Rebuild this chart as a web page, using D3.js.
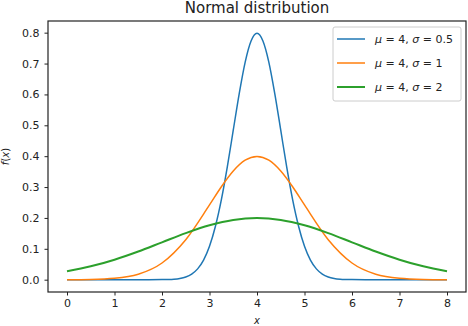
<!DOCTYPE html>
<html>
<head>
<meta charset="utf-8">
<script src="https://cdn.jsdelivr.net/npm/d3@7"></script>
<style>
  body { margin: 0; background: #fff; }
  svg { font-family: 'DejaVu Sans', sans-serif; }
</style>
</head>
<body>
<div id="chart"></div>
<script>
// values
const blueX = [0, 0.5, 1, 1.5, 2, 2.125, 2.25, 2.375, 2.5, 2.625, 2.75, 2.875, 3, 3.125, 3.25, 3.375, 3.5, 3.625, 3.75, 3.875, 4,
  4.125, 4.25, 4.375, 4.5, 4.625, 4.75, 4.875, 5, 5.125, 5.25, 5.375, 5.5, 5.625, 5.75, 5.875, 6, 6.5, 7, 7.5, 8];
const blueY = [0, 0, 0, 0, 0.0003, 0.0007, 0.0017, 0.0041, 0.0089, 0.0182, 0.035, 0.0635, 0.108, 0.173, 0.259, 0.365, 0.484, 0.602, 0.704, 0.773, 0.798,
  0.773, 0.704, 0.602, 0.484, 0.365, 0.259, 0.173, 0.108, 0.0635, 0.035, 0.0182, 0.0089, 0.0041, 0.0017, 0.0007, 0.0003, 0, 0, 0, 0];

const orangeX = [0, 0.5, 1, 1.5, 2, 2.5, 3, 3.25, 3.5, 3.75, 4, 4.25, 4.5, 4.75, 5, 5.5, 6, 6.5, 7, 7.5, 8];
const orangeY = [0.0001, 0.0009, 0.0044, 0.0175, 0.054, 0.1295, 0.242, 0.301, 0.352, 0.387, 0.399, 0.387, 0.352, 0.301, 0.242, 0.1295, 0.054, 0.0175, 0.0044, 0.0009, 0.0001];

const greenX = [0, 0.5, 1, 1.5, 2, 2.5, 3, 3.5, 4, 4.5, 5, 5.5, 6, 6.5, 7, 7.5, 8];
const greenY = [0.027, 0.0432, 0.0648, 0.0913, 0.121, 0.1506, 0.176, 0.1934, 0.1995, 0.1934, 0.176, 0.1506, 0.121, 0.0913, 0.0648, 0.0432, 0.027];

const seriesNames = [['4', '0.5'], ['4', '1'], ['4', '2']];
const seriesColors = ['#1f77b4', '#ff7f0e', '#2ca02c'];
const seriesWidths = [1.5, 1.5, 2];

const xTicks = [0, 1, 2, 3, 4, 5, 6, 7, 8];
const yTicks = [0, 0.1, 0.2, 0.3, 0.4, 0.5, 0.6, 0.7, 0.8];

const width = 468;
const height = 326;
const margin = { top: 21, right: 2, bottom: 34, left: 48 };

const x = d3.scaleLinear()
  .domain([-0.4, 8.4])
  .range([margin.left, width - margin.right]);

const y = d3.scaleLinear()
  .domain([-0.0399, 0.8378])
  .range([height - margin.bottom, margin.top]);

const svg = d3.select('#chart').append('svg')
  .attr('width', width)
  .attr('height', height)
  .attr('viewBox', [0, 0, width, height]);

/* AXES */

const axisStyle = (g) => g
  .call(() => g.select('.domain').remove())
  .call(() => g.selectAll('.tick line').attr('stroke', '#222').attr('stroke-width', 1))
  .call(() => g.selectAll('.tick text')
    .attr('fill', '#222')
    .attr('font-size', 11)
    .attr('font-family', 'DejaVu Sans'));

svg.append('g')
  .attr('transform', `translate(0, ${height - margin.bottom})`)
  .call(d3.axisBottom(x).tickValues(xTicks).tickFormat(d3.format('d')).tickSize(3.5).tickPadding(4))
  .call(axisStyle);

svg.append('g')
  .attr('transform', `translate(${margin.left}, 0)`)
  .call(d3.axisLeft(y).tickValues(yTicks).tickFormat(d3.format('.1f')).tickSize(3.5).tickPadding(5))
  .call(axisStyle);

/* CURVES */

const line = d3.line()
  .x((d) => x(d[0]))
  .y((d) => y(d[1]))
  .curve(d3.curveMonotoneX);

const curves = [
  d3.zip(blueX, blueY),
  d3.zip(orangeX, orangeY),
  d3.zip(greenX, greenY),
];

svg.append('defs').append('clipPath')
  .attr('id', 'plot-clip')
  .append('rect')
  .attr('x', margin.left)
  .attr('y', margin.top)
  .attr('width', width - margin.left - margin.right)
  .attr('height', height - margin.top - margin.bottom);

svg.append('g')
  .attr('clip-path', 'url(#plot-clip)')
  .selectAll('path')
  .data(curves)
  .join('path')
  .attr('fill', 'none')
  .attr('stroke', (d, i) => seriesColors[i])
  .attr('stroke-width', (d, i) => seriesWidths[i])
  .attr('stroke-linejoin', 'round')
  .attr('d', line);

/* FRAME */

svg.append('rect')
  .attr('x', margin.left)
  .attr('y', margin.top)
  .attr('width', width - margin.left - margin.right)
  .attr('height', height - margin.top - margin.bottom)
  .attr('fill', 'none')
  .attr('stroke', '#222')
  .attr('stroke-width', 1.2);

/* TITLES */

svg.append('text')
  .attr('x', (margin.left + width - margin.right) / 2)
  .attr('y', 13)
  .attr('text-anchor', 'middle')
  .attr('font-size', 15)
  .attr('fill', '#222')
  .text('Normal distribution');

svg.append('text')
  .attr('x', (margin.left + width - margin.right) / 2)
  .attr('y', 324)
  .attr('text-anchor', 'middle')
  .attr('font-size', 10)
  .attr('font-style', 'italic')
  .attr('fill', '#222')
  .text('x');

const yLabel = svg.append('text')
  .attr('transform', `translate(9, ${(margin.top + height - margin.bottom) / 2}) rotate(-90)`)
  .attr('text-anchor', 'middle')
  .attr('font-size', 10)
  .attr('fill', '#222');
yLabel.append('tspan').attr('font-style', 'italic').text('f');
yLabel.append('tspan').text('(');
yLabel.append('tspan').attr('font-style', 'italic').text('x');
yLabel.append('tspan').text(')');

/* LEGEND */

const legend = svg.append('g')
  .attr('transform', 'translate(333, 27)');

legend.append('rect')
  .attr('width', 128)
  .attr('height', 74)
  .attr('rx', 2)
  .attr('fill', '#fff')
  .attr('fill-opacity', 0.8)
  .attr('stroke', '#ccc')
  .attr('stroke-width', 1);

const rows = legend.selectAll('g.row')
  .data(seriesNames)
  .join('g')
  .attr('class', 'row')
  .attr('transform', (d, i) => `translate(0, ${12 + i * 24})`);

rows.append('line')
  .attr('x1', 4)
  .attr('x2', 32)
  .attr('stroke', (d, i) => seriesColors[i])
  .attr('stroke-width', (d, i) => seriesWidths[i]);

const labels = rows.append('text')
  .attr('x', 42)
  .attr('y', 4)
  .attr('font-size', 11)
  .attr('fill', '#222')
  .attr('xml:space', 'preserve')
  .style('white-space', 'pre');

labels.append('tspan').attr('font-style', 'italic').text('μ');
labels.append('tspan').text((d) => ` = ${d[0]}, `);
labels.append('tspan').attr('font-style', 'italic').text('σ');
labels.append('tspan').text((d) => ` = ${d[1]}`);
</script>
</body>
</html>
